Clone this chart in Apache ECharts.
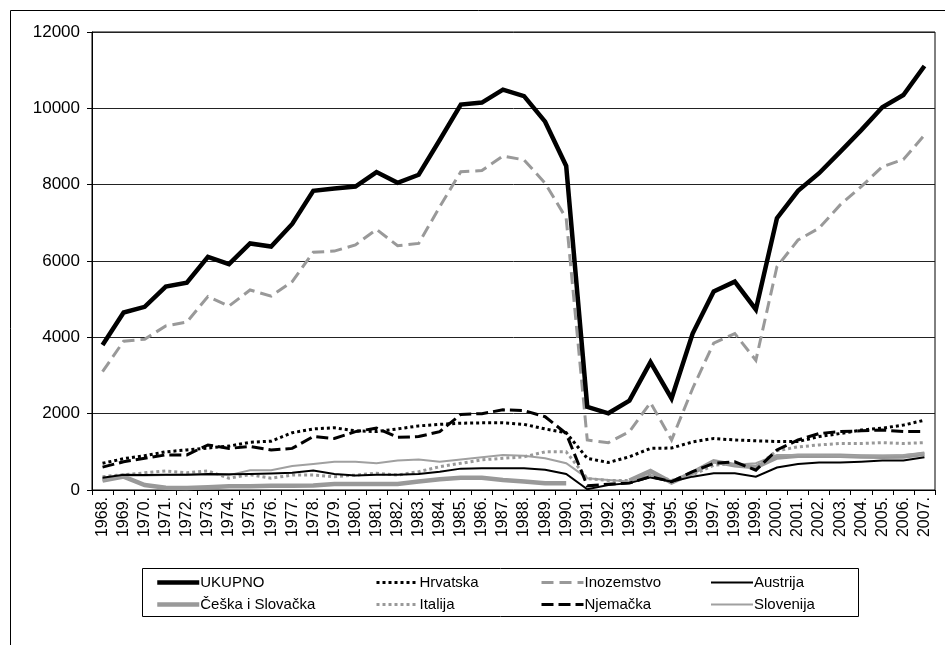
<!DOCTYPE html>
<html>
<head>
<meta charset="utf-8">
<title>Turisti</title>
<script src="https://cdn.jsdelivr.net/npm/echarts@6/dist/echarts.min.js"></script>
<style>
  html, body { margin: 0; padding: 0; background: #fff; }
  #chart-main { width: 945px; height: 645px; }
</style>
</head>
<body>
<div id="chart-main"></div>
<script>
// godine
var years = [];
for (var y = 1968; y <= 2007; y++) years.push(y + '.');

// vrijednosti po seriji (očitano sa slike)
var ukupno = [3800, 4650, 4800, 5330, 5430, 6110, 5920, 6460, 6380, 6970, 7840, 7900, 7950, 8330, 8050, 8260, 9170, 10100, 10150, 10490, 10320, 9650, 8490, 2180, 2010, 2340, 3350, 2400, 4100, 5200, 5460, 4730, 7120, 7840, 8300, 8860, 9430, 10030, 10350, 11110];
var hrvatska = [700, 820, 900, 1000, 1050, 1100, 1150, 1250, 1280, 1500, 1600, 1630, 1550, 1530, 1600, 1680, 1720, 1750, 1760, 1760, 1720, 1600, 1500, 830, 720, 870, 1090, 1100, 1260, 1350, 1310, 1290, 1270, 1270, 1400, 1480, 1570, 1620, 1700, 1830];
var inozemstvo = [3100, 3900, 3950, 4300, 4400, 5070, 4820, 5240, 5080, 5460, 6230, 6260, 6420, 6830, 6400, 6460, 7420, 8340, 8370, 8750, 8650, 8040, 7120, 1310, 1240, 1530, 2290, 1310, 2660, 3850, 4100, 3400, 5850, 6550, 6860, 7470, 7950, 8470, 8660, 9300];
var austrija = [320, 400, 390, 400, 400, 420, 410, 420, 430, 450, 510, 420, 380, 400, 400, 420, 480, 560, 570, 570, 570, 530, 420, 20, 130, 180, 330, 220, 350, 440, 440, 350, 590, 680, 720, 720, 740, 770, 770, 860];
var ceska = [250, 350, 130, 60, 50, 70, 100, 100, 110, 110, 120, 160, 160, 160, 160, 220, 280, 320, 320, 260, 220, 180, 180, null, null, 250, 500, 200, 450, 750, 650, 600, 850, 900, 900, 900, 880, 870, 880, 950];
var italija = [350, 400, 450, 500, 450, 500, 310, 400, 310, 390, 390, 350, 390, 440, 390, 480, 610, 700, 790, 830, 870, 1000, 1000, 300, 250, 250, 400, 250, 400, 650, 700, 600, 1030, 1130, 1180, 1220, 1220, 1240, 1220, 1240];
var njemacka = [600, 740, 830, 920, 920, 1180, 1090, 1140, 1050, 1090, 1400, 1350, 1530, 1620, 1380, 1400, 1530, 1980, 2000, 2100, 2080, 1920, 1480, 110, 150, 180, 350, 220, 480, 700, 740, 520, 1050, 1310, 1480, 1530, 1550, 1570, 1530, 1530];
var slovenija = [250, 380, 380, 390, 400, 400, 390, 520, 520, 630, 680, 740, 740, 700, 770, 800, 740, 800, 860, 920, 900, 830, 700, 310, 260, 220, 390, 220, 480, 740, 660, 700, 920, 920, 910, 900, 900, 900, 920, 960];

var yTicks = [0, 2000, 4000, 6000, 8000, 10000, 12000];

var GREY = '#999999';
var FONT = 'Liberation Sans, Arial, sans-serif';

// jedna linija
function makeLine(name, data, color, width, type, z) {
  return {
    name: name,
    type: 'line',
    data: data,
    symbol: 'none',
    connectNulls: false,
    z: z,
    lineStyle: { color: color, width: width, type: type, cap: 'butt', join: 'miter' },
    itemStyle: { color: color },
    emphasis: { disabled: true }
  };
}

// stupac legende (dvije stavke jedna ispod druge)
function legendColumn(left, names) {
  return {
    orient: 'vertical',
    left: left,
    top: 570,
    itemGap: 7,
    itemWidth: 42,
    itemHeight: 14,
    selectedMode: false,
    data: names,
    itemStyle: { opacity: 0 },
    lineStyle: { width: 'inherit' },
    textStyle: { fontFamily: FONT, fontSize: 15, color: '#000', padding: [0, 0, 0, -4] }
  };
}

var chart = echarts.init(document.getElementById('chart-main'));
var option = {
  backgroundColor: '#fff',
  animation: false,
  textStyle: { fontFamily: FONT },
  grid: { left: 92, right: 10, top: 32, bottom: 155, show: true, borderColor: '#000', borderWidth: 1 },
  xAxis: {
    type: 'category',
    data: years,
    boundaryGap: true,
    axisLine: { lineStyle: { color: '#000', width: 1 } },
    axisTick: { show: true, length: 5, interval: 0, lineStyle: { color: '#000' } },
    axisLabel: { interval: 0, rotate: 90, fontSize: 16, color: '#000', margin: 7, fontFamily: FONT }
  },
  yAxis: {
    type: 'value',
    min: yTicks[0],
    max: yTicks[yTicks.length - 1],
    interval: 2000,
    axisLine: { show: true, lineStyle: { color: '#000', width: 1 } },
    axisTick: { show: true, length: 5, lineStyle: { color: '#000' } },
    axisLabel: { fontSize: 17, color: '#000', margin: 12, fontFamily: FONT, formatter: function (v) { return String(v); } },
    splitLine: { lineStyle: { color: '#222', width: 1 } }
  },
  legend: [
    legendColumn(150, ['UKUPNO', 'Češka i Slovačka']),
    legendColumn(370, ['Hrvatska', 'Italija']),
    legendColumn(535, ['Inozemstvo', 'Njemačka']),
    legendColumn(705, ['Austrija', 'Slovenija'])
  ],
  graphic: [
    // vanjski okvir
    { type: 'rect', left: 8, top: 8, shape: { width: 1000, height: 700 }, style: { fill: 'none', stroke: '#000', lineWidth: 1 }, silent: true },
    // okvir legende
    { type: 'rect', left: 140, top: 566, shape: { width: 716, height: 48 }, style: { fill: 'none', stroke: '#000', lineWidth: 1 }, silent: true }
  ],
  series: [
    makeLine('Češka i Slovačka', ceska, GREY, 4.5, 'solid', 2),
    makeLine('Slovenija', slovenija, '#a0a0a0', 2, 'solid', 3),
    makeLine('Italija', italija, GREY, 3, [3, 3], 3),
    makeLine('Austrija', austrija, '#000', 2, 'solid', 4),
    makeLine('Njemačka', njemacka, '#000', 3, [12, 5], 5),
    makeLine('Hrvatska', hrvatska, '#000', 3, [3, 3], 5),
    makeLine('Inozemstvo', inozemstvo, GREY, 3, [12, 6], 6),
    makeLine('UKUPNO', ukupno, '#000', 4.5, 'solid', 7)
  ]
};
chart.setOption(option);
</script>
</body>
</html>
